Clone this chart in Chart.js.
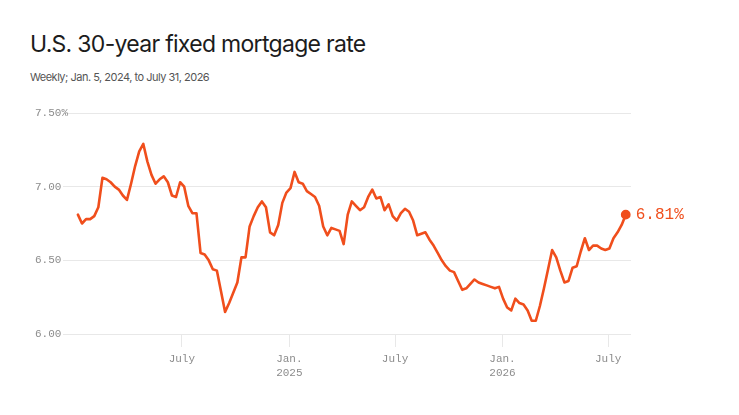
<!DOCTYPE html>
<html>
<head>
<meta charset="utf-8">
<script src="https://cdn.jsdelivr.net/npm/chart.js@4/dist/chart.umd.min.js"></script>
<style>
  html, body { margin: 0; padding: 0; background: #fff; }
  #wrap { position: relative; width: 739px; height: 415px; overflow: hidden; }
  #title { position: absolute; left: 30px; top: 33px; font: 400 23px/23px Inter, sans-serif; color: #1c1c1c; letter-spacing: -0.7px; white-space: nowrap; }
  #sub { position: absolute; left: 30px; top: 72px; font: 400 11px/11px Inter, sans-serif; color: #555; letter-spacing: -0.5px; white-space: nowrap; }
  canvas { position: absolute; left: 0; top: 0; }
</style>
</head>
<body>
<div id="wrap">
  <div id="title">U.S. 30-year fixed mortgage rate</div>
  <div id="sub">Weekly; Jan. 5, 2024, to July 31, 2026</div>
  <canvas id="chart" width="739" height="415"></canvas>
</div>
<script>
// weekly rates (%), first week Jan. 5, 2024
const firstWeekDay = 4; // days after Jan. 1, 2024
const rates = [
  6.81, 6.75, 6.78, 6.78, 6.80, 6.86, 7.06, 7.05, 7.03, 7.00,
  6.98, 6.94, 6.91, 7.02, 7.14, 7.24, 7.29, 7.17, 7.08, 7.02,
  7.05, 7.07, 7.03, 6.94, 6.93, 7.03, 7.00, 6.87, 6.82, 6.82,
  6.55, 6.54, 6.50, 6.44, 6.43, 6.29, 6.15, 6.21, 6.28, 6.35,
  6.52, 6.52, 6.73, 6.80, 6.86, 6.90, 6.86, 6.69, 6.67, 6.74,
  6.89, 6.96, 6.99, 7.10, 7.03, 7.02, 6.97, 6.95, 6.93, 6.87,
  6.73, 6.67, 6.72, 6.71, 6.70, 6.61, 6.81, 6.90, 6.87, 6.84,
  6.86, 6.93, 6.98, 6.92, 6.93, 6.84, 6.88, 6.80, 6.77, 6.82,
  6.85, 6.83, 6.77, 6.67, 6.68, 6.69, 6.64, 6.60, 6.55, 6.50,
  6.46, 6.43, 6.42, 6.36, 6.30, 6.31, 6.34, 6.37, 6.35, 6.34,
  6.33, 6.32, 6.31, 6.32, 6.24, 6.18, 6.16, 6.24, 6.21, 6.20,
  6.16, 6.09, 6.09, 6.19, 6.31, 6.44, 6.57, 6.52, 6.43, 6.35,
  6.36, 6.45, 6.46, 6.56, 6.65, 6.57, 6.60, 6.60, 6.58, 6.57,
  6.58, 6.65, 6.69, 6.74, 6.81
];
// x tick positions (days after Jan. 1, 2024) and their labels
const tickDays = [182, 366, 547, 731, 912];
const tickLabels = [['July'], ['Jan.', '2025'], ['July'], ['Jan.', '2026'], ['July']];
const yTicks = [6.0, 6.5, 7.0, 7.5];

const orange = '#f04e1c';
const grey = '#8c8c8c';
const gridColor = '#e8e8e8';
const mono = 'Liberation Mono, monospace';

const points = rates.map((v, i) => ({ x: firstWeekDay + 7 * i, y: v }));

// y labels drawn by hand so the "%" can hang past the axis box
const yLabels = {
  id: 'yLabels',
  afterDraw(chart) {
    const y = chart.scales.y;
    const ctx = chart.ctx;
    ctx.save();
    ctx.font = '11px ' + mono;
    ctx.fillStyle = grey;
    ctx.textAlign = 'left';
    ctx.textBaseline = 'middle';
    yTicks.forEach(v => {
      const txt = v === 7.5 ? v.toFixed(2) + '%' : v.toFixed(2);
      ctx.fillText(txt, y.left, y.getPixelForValue(v));
    });
    ctx.restore();
  }
};

const endLabel = {
  id: 'endLabel',
  afterDatasetsDraw(chart) {
    const meta = chart.getDatasetMeta(0);
    const last = meta.data[meta.data.length - 1];
    const ctx = chart.ctx;
    ctx.save();
    ctx.font = '16px ' + mono;
    ctx.fillStyle = orange;
    ctx.textAlign = 'left';
    ctx.textBaseline = 'middle';
    ctx.fillText(rates[rates.length - 1].toFixed(2) + '%', last.x + 10, last.y);
    ctx.restore();
  }
};

new Chart(document.getElementById('chart').getContext('2d'), {
  type: 'line',
  data: {
    datasets: [{
      data: points,
      borderColor: orange,
      backgroundColor: orange,
      borderWidth: 2.6,
      tension: 0,
      pointRadius: c => c.dataIndex === rates.length - 1 ? 3.6 : 0,
      pointHoverRadius: 0,
      borderCapStyle: 'round',
      borderJoinStyle: 'round'
    }]
  },
  options: {
    responsive: false,
    animation: false,
    events: [],
    layout: { padding: { top: 113, left: 35, right: 108, bottom: 26 } },
    plugins: { legend: { display: false }, tooltip: { enabled: false } },
    scales: {
      x: {
        type: 'linear',
        min: -21,
        max: 951,
        afterBuildTicks: s => { s.ticks = tickDays.map(v => ({ value: v })); },
        afterFit: s => { s.height = 55; },
        border: { display: false },
        grid: { drawOnChartArea: false, drawTicks: true, tickLength: 13, color: gridColor, lineWidth: 1 },
        ticks: {
          autoSkip: false,
          maxRotation: 0,
          padding: 5,
          color: grey,
          font: { family: mono, size: 11, lineHeight: 1.27 },
          callback: v => tickLabels[tickDays.indexOf(v)]
        }
      },
      y: {
        min: 6,
        max: 7.5,
        afterBuildTicks: s => { s.ticks = yTicks.map(v => ({ value: v })); },
        afterFit: s => { s.width = 28.3; },
        border: { display: false },
        grid: { drawTicks: false, color: gridColor, lineWidth: 1 },
        ticks: { display: false }
      }
    }
  },
  plugins: [yLabels, endLabel]
});
</script>
</body>
</html>
